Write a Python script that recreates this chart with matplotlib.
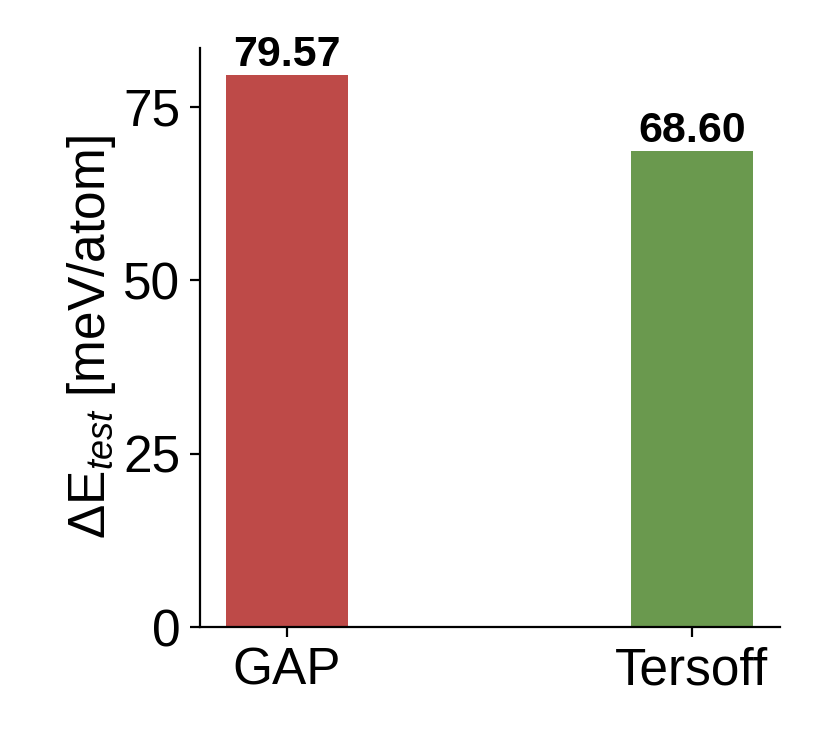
import matplotlib.pyplot as plt

plt.rcParams['font.family'] = ['Liberation Sans', 'DejaVu Sans']
plt.rcParams['mathtext.fontset'] = 'custom'
plt.rcParams['mathtext.it'] = 'Liberation Sans:italic'
plt.rcParams['mathtext.rm'] = 'Liberation Sans'

models = ["GAP", "Tersoff"]
errors = [79.57, 68.60]
colors = ["#BE4A48", "#6A994E"]

fig = plt.figure(figsize=(4.065, 3.695), dpi=200)
ax = fig.add_axes([0.246, 0.1515, 0.713, 0.7835])
x = range(len(models))
bars = ax.bar(x, errors, width=0.3, color=colors)
for b, v in zip(bars, errors):
    ax.text(b.get_x() + b.get_width() / 2, v, f"{v:.2f}", ha="center", va="bottom",
            fontsize=15.5, fontweight="bold")
ax.set_xticks(list(x))
ax.set_xticklabels(models)
ax.set_xlim(-0.215, 1.217)
ax.set_ylim(0, 83.5)
ax.set_yticks([0, 25, 50, 75])
ax.tick_params(labelsize=18.5)
ax.set_ylabel(r"$\Delta$E$_{test}$ [meV/atom]", fontsize=18.5, labelpad=2)
ax.spines["top"].set_visible(False)
ax.spines["right"].set_visible(False)
fig.savefig("out.png", dpi=200)
